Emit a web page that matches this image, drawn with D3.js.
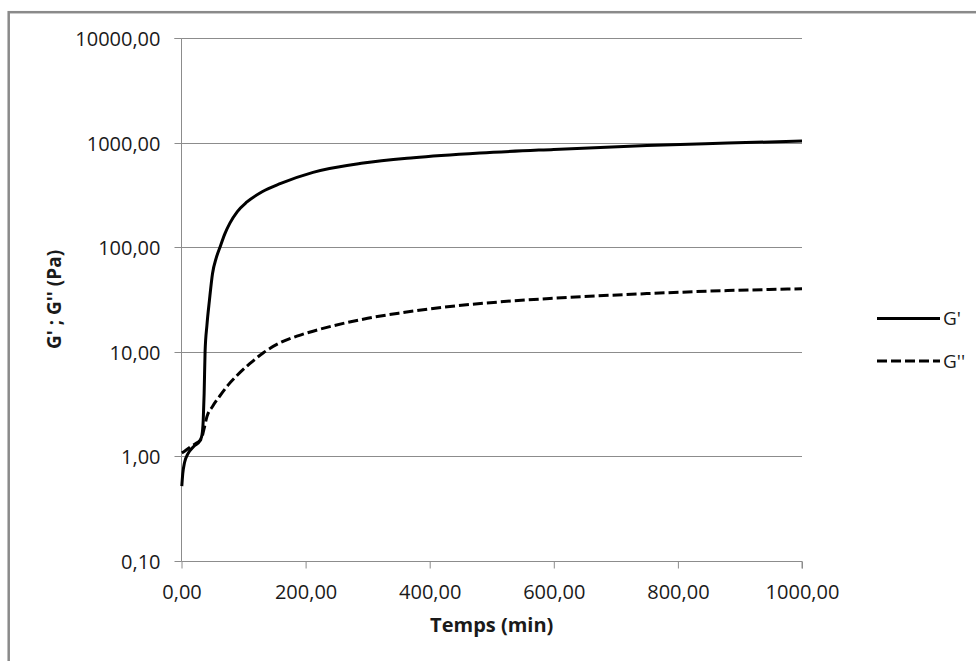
<!DOCTYPE html>
<html>
<head>
<meta charset="utf-8">
<script src="https://cdn.jsdelivr.net/npm/d3@7"></script>
<style>
  html, body { margin: 0; padding: 0; background: #fff; }
  svg { display: block; }
  text { font-family: "Open Sans", "Noto Sans", sans-serif; fill: #1a1a1a; }
</style>
</head>
<body>
<svg id="chart" width="976" height="661"></svg>
<script>
// ---- Data ----
const gPrimeTime = [0.5, 2, 5, 10, 20, 30, 33, 35, 36.5, 38, 41, 45, 50, 56, 62, 70, 78, 90, 105, 130, 160, 212, 293, 374, 481, 600, 750, 880, 1000];
const gPrimeValues = [0.52, 0.68, 0.88, 1.05, 1.25, 1.42, 1.6, 2.2, 4, 10, 18, 31, 56, 79, 100, 135, 170, 219, 269, 339, 407, 519, 637, 716, 794, 861, 940, 989, 1035];

const gSecondTime = [0.5, 5, 14, 25, 32, 36, 41, 50, 62, 75, 89, 110, 132, 160, 186, 239, 266, 300, 350, 420, 513, 600, 750, 880, 1000];
const gSecondValues = [1.08, 1.12, 1.23, 1.35, 1.47, 1.8, 2.4, 3.0, 3.8, 4.8, 5.9, 7.7, 9.8, 12.3, 14.1, 17.4, 19.0, 20.9, 23.4, 26.6, 30.0, 32.5, 36, 38.5, 40];

const xTicks = [0, 200, 400, 600, 800, 1000];
const yTicks = [0.1, 1, 10, 100, 1000, 10000];
const seriesNames = ["G'", "G''"];
const xTitle = "Temps (min)";
const yTitle = "G' ; G'' (Pa)";

// ---- Layout ----
const svg = d3.select("#chart");
const fmt = v => v.toFixed(2).replace(".", ",");

const x = d3.scaleLinear().domain([0, 1000]).range([181.5, 802]);
const y = d3.scaleLog().domain([0.1, 10000]).range([561, 38]);

// outer frame
svg.append("rect")
  .attr("x", 8.7).attr("y", 12.2)
  .attr("width", 1200).attr("height", 1200)
  .attr("fill", "none").attr("stroke", "#8a8a8a").attr("stroke-width", 2.5);

// gridlines
svg.append("g").selectAll("line").data(yTicks.slice(1)).join("line")
  .attr("x1", x(0)).attr("x2", x(1000))
  .attr("y1", d => Math.round(y(d)) + 0.5).attr("y2", d => Math.round(y(d)) + 0.5)
  .attr("stroke", "#8c8c8c").attr("stroke-width", 1);

// y axis
const yAxis = d3.axisLeft(y).tickValues(yTicks).tickFormat(fmt).tickSize(7).tickPadding(14);
const gy = svg.append("g").attr("transform", `translate(${x(0)},0)`).call(yAxis);
gy.selectAll(".tick").attr("transform", d => `translate(0,${Math.round(y(d)) + 0.5})`);
gy.select(".domain").attr("stroke", "#8c8c8c").attr("d", `M-7,${y(10000)+0.5}H0V${y(0.1)+0.5}`);
gy.selectAll(".tick line").attr("stroke", "#8c8c8c");
gy.selectAll(".tick text").style("font-size", "20px").attr("fill", "#1a1a1a")
  .attr("font-family", null).attr("dy", "0.35em");

// x axis
const xAxis = d3.axisBottom(x).tickValues(xTicks).tickFormat(fmt).tickSize(7).tickPadding(16);
const gx = svg.append("g").attr("transform", `translate(0,${Math.round(y(0.1)) + 0.5})`).call(xAxis);
gx.select(".domain").attr("stroke", "#8c8c8c").attr("d", `M${x(0)},0H${x(1000)}V7`);
gx.selectAll(".tick line").attr("stroke", "#8c8c8c");
gx.selectAll(".tick text").style("font-size", "20px").attr("fill", "#1a1a1a")
  .attr("font-family", null);

// titles
svg.append("text").attr("x", (x(0) + x(1000)) / 2).attr("y", 632)
  .attr("text-anchor", "middle").style("font-size", "20px").style("font-weight", "bold")
  .text(xTitle);
svg.append("text")
  .attr("transform", `translate(61,${(y(0.1) + y(10000)) / 2}) rotate(-90)`)
  .attr("text-anchor", "middle").style("font-size", "19px").style("font-weight", "bold")
  .text(yTitle);

// lines
const line = d3.line().x(d => x(d[0])).y(d => y(d[1])).curve(d3.curveMonotoneX);
const g1 = gPrimeTime.map((t, i) => [t, gPrimeValues[i]]);
const g2 = gSecondTime.map((t, i) => [t, gSecondValues[i]]);

svg.append("path").datum(g2).attr("d", line)
  .attr("fill", "none").attr("stroke", "#000").attr("stroke-width", 3)
  .attr("stroke-dasharray", "10,4");
svg.append("path").datum(g1).attr("d", line)
  .attr("fill", "none").attr("stroke", "#000").attr("stroke-width", 3);

// legend
const legend = svg.append("g");
const legY = [318.5, 361];
const legDash = [null, "10,4"];
seriesNames.forEach((name, i) => {
  legend.append("line")
    .attr("x1", 877).attr("x2", 940).attr("y1", legY[i]).attr("y2", legY[i])
    .attr("stroke", "#000").attr("stroke-width", 3)
    .attr("stroke-dasharray", legDash[i]);
  legend.append("text").attr("x", 943).attr("y", legY[i]).attr("dy", "0.35em")
    .style("font-size", "19px").text(name);
});
</script>
</body>
</html>
